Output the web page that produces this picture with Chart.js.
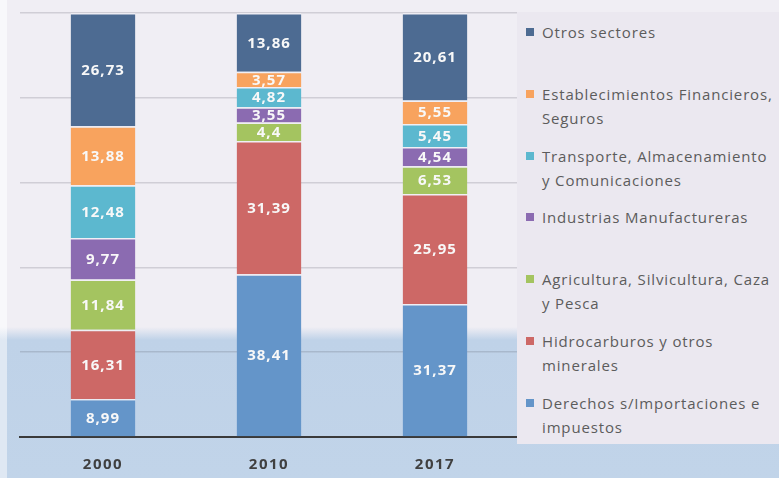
<!DOCTYPE html>
<html>
<head>
<meta charset="utf-8">
<script src="https://cdn.jsdelivr.net/npm/chart.js@4.4.1/dist/chart.umd.min.js"></script>
<style>
    body { margin: 0; }
    #wrap {
        position: relative; width: 779px; height: 478px; overflow: hidden;
        background: linear-gradient(to bottom, #f0eef4 0px, #f0eef4 327px, #bfd2e8 340px, #c1d4e9 100%);
    }
    #edge {
        position: absolute; left: 0; top: 0; width: 7px; height: 478px;
        background: linear-gradient(to bottom, #f8f8fb 0px, #f8f8fb 327px, #dfe8f3 340px, #dfe8f3 100%);
    }
    #chart { position: absolute; left: 0; top: 0; }
    #legend {
        position: absolute; left: 517px; top: 12px; width: 262px; height: 432px;
        background: #ebe8f0;
        font-family: "Open Sans", sans-serif; font-size: 15px; color: #5c5c5c;
        letter-spacing: 0.85px;
    }
    .item { position: absolute; left: 25px; line-height: 24px; white-space: pre; }
    .box { position: absolute; left: -16px; top: 8px; width: 8px; height: 8px; }
</style>
</head>
<body>
<div id="wrap">
    <div id="edge"></div>
    <canvas id="chart" width="779" height="478"></canvas>
    <div id="legend"></div>
</div>
<script>
// Estructura del PIB (%)
const years = ['2000', '2010', '2017'];

const derechos = [8.99, 38.41, 31.37];
const hidrocarburos = [16.31, 31.39, 25.95];
const agricultura = [11.84, 4.4, 6.53];
const industrias = [9.77, 3.55, 4.54];
const transporte = [12.48, 4.82, 5.45];
const financieros = [13.88, 3.57, 5.55];
const otros = [26.73, 13.86, 20.61];

const yTicks = [0, 20, 40, 60, 80, 100];

// bottom to top
const series = [
    { label: 'Derechos s/Importaciones e\nimpuestos', data: derechos, color: '#6495c9' },
    { label: 'Hidrocarburos y otros\nminerales', data: hidrocarburos, color: '#cd6866' },
    { label: 'Agricultura, Silvicultura, Caza\ny Pesca', data: agricultura, color: '#a4c460' },
    { label: 'Industrias Manufactureras', data: industrias, color: '#8b6bb1' },
    { label: 'Transporte, Almacenamiento\ny Comunicaciones', data: transporte, color: '#5cb8cf' },
    { label: 'Establecimientos Financieros,\nSeguros', data: financieros, color: '#f8a35e' },
    { label: 'Otros sectores', data: otros, color: '#4d6b92' }
];

/************************ legend (html, top item first) */
const legendDiv = document.getElementById('legend');
series.slice().reverse().forEach((s, i) => {
    let item = document.createElement('div');
    item.className = 'item';
    item.style.top = (32 + 61.8 * i - 24) + 'px';
    item.textContent = s.label;
    let box = document.createElement('span');
    box.className = 'box';
    box.style.background = s.color;
    item.appendChild(box);
    legendDiv.appendChild(item);
});

/************************ wider letters for all canvas text */
const wideText = {
    id: 'wideText',
    beforeDraw(chart) {
        chart.ctx.letterSpacing = '1.5px';
    }
};

/************************ value labels inside segments */
const segmentLabels = {
    id: 'segmentLabels',
    afterDatasetsDraw(chart) {
        const ctx = chart.ctx;
        ctx.save();
        ctx.font = 'bold 15px "Open Sans", sans-serif';
        ctx.letterSpacing = '1px';
        ctx.fillStyle = '#f8f8f8';
        ctx.textAlign = 'center';
        ctx.textBaseline = 'middle';
        chart.data.datasets.forEach((ds, di) => {
            chart.getDatasetMeta(di).data.forEach((bar, i) => {
                const p = bar.getProps(['x', 'y', 'base'], true);
                const txt = String(ds.data[i]).replace('.', ',');
                ctx.fillText(txt, p.x, (p.y + p.base) / 2 + 1);
            });
        });
        ctx.restore();
    }
};

new Chart(document.getElementById('chart').getContext('2d'), {
    type: 'bar',
    data: {
        labels: years,
        datasets: series.map((s) => ({
            label: s.label,
            data: s.data,
            backgroundColor: s.color,
            borderColor: 'rgba(240, 238, 244, 0.85)',
            borderWidth: { top: 1.5, left: 0, right: 0, bottom: 0 },
            borderSkipped: false,
            categoryPercentage: 1,
            barPercentage: 0.39
        }))
    },
    options: {
        responsive: false,
        animation: false,
        layout: { padding: { left: 20, top: 13, right: 261, bottom: 0 } },
        plugins: { legend: { display: false }, tooltip: { enabled: false } },
        scales: {
            x: {
                stacked: true,
                grid: { display: false, drawTicks: false },
                border: { display: true, color: '#3a3a3a', width: 2 },
                ticks: {
                    padding: 19,
                    color: '#404040',
                    font: { family: '"Open Sans", sans-serif', size: 15, weight: 'bold' }
                },
                afterFit: (s) => { s.height = 41; }
            },
            y: {
                stacked: true,
                min: yTicks[0],
                max: yTicks[yTicks.length - 1],
                afterBuildTicks: (s) => { s.ticks = yTicks.map((v) => ({ value: v })); },
                ticks: { display: false },
                grid: { color: 'rgba(80, 80, 95, 0.2)', lineWidth: 1.5, drawTicks: false },
                border: { display: false },
                afterFit: (s) => { s.width = 0; }
            }
        }
    },
    plugins: [wideText, segmentLabels]
});
</script>
</body>
</html>
